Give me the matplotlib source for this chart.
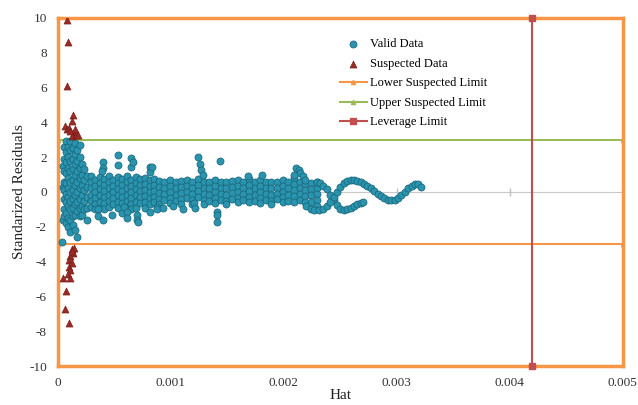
import numpy as np
import matplotlib
matplotlib.use("Agg")
import matplotlib.pyplot as plt

plt.rcParams['font.family'] = ['Liberation Serif', 'DejaVu Serif']
plt.rcParams['axes.unicode_minus'] = False

# hat values are written in units of 1e-4
# dense cloud near hat = 0
cloud_hat = [0.35, 0.4, 0.4, 0.4,
             0.5, 0.5, 0.5, 0.5, 0.5, 0.5, 0.5, 0.5,
             0.7, 0.7, 0.7, 0.7, 0.7, 0.7, 0.7, 0.7, 0.7,
             0.9, 0.9, 0.9, 0.9, 0.9, 0.9, 0.9, 0.9, 0.9,
             1.1, 1.1, 1.1, 1.1, 1.1, 1.1, 1.1, 1.1, 1.1, 1.1,
             1.3, 1.3, 1.3, 1.3, 1.3, 1.3, 1.3, 1.3, 1.3,
             1.5, 1.5, 1.5, 1.5, 1.5, 1.5, 1.5, 1.5, 1.5,
             1.7, 1.7, 1.7, 1.7, 1.7, 1.7, 1.7, 1.7,
             1.9, 1.9, 1.9, 1.9, 1.9, 1.9, 1.9, 1.9,
             2.1, 2.1, 2.1, 2.1, 2.1, 2.1,
             2.3, 2.3, 2.3, 2.3, 2.3,
             2.6, 2.6, 2.6, 2.6, 2.6]
cloud_res = [-2.9, -1.6, 0.3, 1.5,
             2.6, 1.9, 1.2, 0.6, 0.1, -0.4, -1.0, -1.4,
             2.9, 2.3, 1.7, 1.1, 0.5, -0.1, -0.6, -1.2, -1.8,
             2.6, 2.0, 1.4, 0.8, 0.2, -0.3, -0.8, -1.5, -2.0,
             2.9, 2.4, 1.8, 1.2, 0.6, 0.0, -0.5, -1.0, -1.6, -2.3,
             2.5, 1.9, 1.3, 0.7, 0.1, -0.4, -0.9, -1.4, -1.9,
             2.8, 2.2, 1.6, 1.0, 0.4, -0.2, -0.7, -1.3, -2.2,
             2.4, 1.8, 1.2, 0.6, 0.0, -0.6, -1.1, -2.6,
             2.7, 2.0, 1.4, 0.8, 0.2, -0.4, -0.9, -1.4,
             1.6, 1.0, 0.4, -0.2, -0.8, -1.3,
             1.3, 0.7, 0.1, -0.5, -1.0,
             0.9, 0.3, -0.3, -0.9, -1.6]

# main band, hat -> residuals in that column
band_cols = {
    2.9: [0.9, 0.55, 0.2, -0.15, -0.5, -0.85],
    3.3: [0.7, 0.35, 0.0, -0.35, -0.7, -1.0],
    3.7: [0.85, 0.5, 0.15, -0.2, -0.55, -0.9],
    4.1: [0.75, 0.4, 0.05, -0.3, -0.65, -1.0],
    4.5: [0.9, 0.55, 0.2, -0.15, -0.5, -0.85],
    4.9: [0.7, 0.35, 0.0, -0.35, -0.7],
    5.3: [0.85, 0.5, 0.15, -0.2, -0.55, -0.9],
    5.7: [0.75, 0.4, 0.05, -0.3, -0.65],
    6.1: [0.9, 0.55, 0.2, -0.15, -0.5, -0.85],
    6.5: [0.7, 0.35, 0.0, -0.35, -0.7, -1.0],
    6.9: [0.85, 0.5, 0.15, -0.2, -0.55, -0.9],
    7.3: [0.75, 0.4, 0.05, -0.3, -0.65],
    7.7: [0.8, 0.45, 0.1, -0.25, -0.6, -0.9],
    8.1: [0.7, 0.35, 0.0, -0.35, -0.7],
    8.5: [0.75, 0.4, 0.05, -0.3, -0.6],
    8.9: [0.65, 0.3, -0.05, -0.4, -0.7],
    9.4: [0.6, 0.25, -0.1, -0.45],
    9.9: [0.7, 0.35, 0.0, -0.35, -0.65],
    10.4: [0.55, 0.2, -0.15, -0.5],
    10.9: [0.65, 0.3, -0.05, -0.4, -0.7],
    11.4: [0.7, 0.35, 0.0, -0.35],
    11.9: [0.6, 0.25, -0.1, -0.45, -0.7],
    12.4: [0.75, 0.4, 0.05, -0.3],
    12.9: [0.6, 0.25, -0.1, -0.45, -0.7],
    13.4: [0.55, 0.2, -0.15, -0.5],
    13.9: [0.7, 0.35, 0.0, -0.35, -0.65],
    14.4: [0.6, 0.25, -0.1, -0.45],
    14.9: [0.55, 0.2, -0.15, -0.5, -0.7],
    15.4: [0.65, 0.3, -0.05, -0.4],
    15.9: [0.7, 0.35, 0.0, -0.35, -0.6],
    16.4: [0.6, 0.25, -0.1, -0.45],
    16.9: [0.75, 0.4, 0.05, -0.3, -0.6],
    17.4: [0.55, 0.2, -0.15, -0.5],
    17.9: [0.7, 0.35, 0.0, -0.35, -0.65],
    18.4: [0.6, 0.25, -0.1, -0.45],
    18.9: [0.55, 0.2, -0.15, -0.5, -0.7],
    19.4: [0.6, 0.25, -0.1, -0.4],
    19.9: [0.7, 0.35, 0.0, -0.3, -0.6],
    20.4: [0.55, 0.2, -0.15, -0.5],
    20.9: [0.8, 0.45, 0.1, -0.25, -0.6],
    21.4: [0.6, 0.25, -0.1, -0.45],
    21.9: [0.45, 0.1, -0.25, -0.6],
    22.4: [0.5, 0.15, -0.2, -0.55],
    22.9: [0.6, 0.25, -0.1, -0.45, -0.8],
}

# scattered points outside the band
outlier_hat = [4.0, 4.0, 5.3, 5.3, 6.5, 6.5, 6.6, 8.1, 8.1, 8.3, 3.9, 12.4,
               12.6, 12.7, 12.8, 14.3, 16.8, 18.1, 21.1, 21.3, 21.4, 21.7,
               21.9, 20.9,
               3.5, 3.5, 4.0, 4.8, 5.7, 5.8, 6.1, 6.1, 7.0, 7.0, 7.1, 8.1,
               8.8, 8.8, 12.0, 12.1, 14.1, 14.1, 14.1, 9.3, 10.2, 11.1,
               22.0, 22.4, 22.7, 23.1]
outlier_res = [1.7, 1.4, 2.1, 1.55, 1.95, 1.45, 1.7, 1.45, 1.15, 1.45, 1.2, 2.0,
               1.6, 1.25, 0.95, 1.8, 0.9, 1.0, 1.4, 1.25, 1.1, 0.9,
               0.7, 1.0,
               -1.0, -1.4, -1.6, -1.3, -1.2, -0.85, -1.15, -1.5, -1.3, -1.6, -1.7, -1.15,
               -0.85, -1.0, -0.63, -0.9, -1.15, -1.3, -1.75, -0.9, -0.8, -1.0,
               -0.8, -0.95, -1.05, -1.05]

# the two wavy tails
waveA_hat = [22.9, 23.2, 23.5, 23.8, 24.1, 24.4, 24.7, 25.0, 25.3, 25.6,
             25.9, 26.2, 26.5, 26.8, 27.0]
waveA_res = [0.6, 0.5, 0.35, 0.15, -0.15, -0.45, -0.75, -0.95, -1.05, -1.0,
             -0.9, -0.8, -0.7, -0.62, -0.57]
waveB_hat = [23.5, 23.8, 24.1, 24.4, 24.7, 25.0, 25.3, 25.6, 25.9, 26.2,
             26.5, 26.8, 27.1, 27.4, 27.7, 28.0, 28.3, 28.6, 28.9, 29.2,
             29.5, 29.8, 30.1, 30.4, 30.7, 31.0, 31.3, 31.6, 31.9, 32.1]
waveB_res = [-1.0, -0.8, -0.55, -0.3, 0.0, 0.3, 0.5, 0.65, 0.7, 0.68,
             0.62, 0.55, 0.45, 0.33, 0.2, 0.05, -0.1, -0.25, -0.37, -0.45,
             -0.47, -0.45, -0.35, -0.2, 0.0, 0.2, 0.35, 0.45, 0.45, 0.3]

# suspected data
susp_hat = [0.8, 0.9, 0.8, 1.3, 1.2, 0.6, 0.8, 1.0, 1.4, 1.2, 1.6, 1.1, 1.5,
            1.8, 1.2, 1.3, 1.1, 1.0, 1.2, 1.0, 1.1, 0.9, 1.4, 1.2,
            0.45, 1.06, 0.7, 0.6, 1.0]
susp_res = [9.9, 8.6, 6.1, 4.4, 4.1, 3.8, 3.6, 3.7, 3.4, 3.2, 3.3, 3.5, 3.6,
            3.3, -3.3, -3.5, -3.7, -3.9, -4.1, -4.3, -4.5, -4.7, -3.2, -3.4,
            -4.95, -4.95, -5.7, -6.7, -7.5]

lower_limit = -3
upper_limit = 3
leverage = 0.0042
xticks = [0, 0.001, 0.002, 0.003, 0.004, 0.005]
yticks = list(range(-10, 11, 2))

band_hat = [h for h, ys in band_cols.items() for _ in ys]
band_res = [y for ys in band_cols.values() for y in ys]
valid_hat = np.array(cloud_hat + band_hat + outlier_hat + waveA_hat + waveB_hat) * 1e-4
valid_res = np.array(cloud_res + band_res + outlier_res + waveA_res + waveB_res)

orange = '#f79646'
green = '#9bbb59'
red = '#c0504d'

fig = plt.figure(figsize=(6.38, 4.05), dpi=100)
ax = fig.add_axes([0.091, 0.096, 0.885, 0.86])

# zero axis line with small ticks
ax.axhline(0, color='#c8c8c8', lw=0.8, zorder=1)
ax.plot(xticks[1:-1], [0] * 4, '|', color='#c0c0c0', ms=6, zorder=1)

ax.scatter(valid_hat, valid_res, s=26, color='#2a93ad', edgecolors='#166478',
           linewidths=0.5, zorder=3, label='Valid Data')
ax.scatter(np.array(susp_hat) * 1e-4, susp_res, s=26, marker='^', color='#9b2a25',
           edgecolors='#6e1a16', linewidths=0.4, zorder=4, label='Suspected Data')
ax.plot([0, 0.005], [lower_limit, lower_limit], color=orange, lw=1.5,
        marker='^', ms=3, zorder=2, label='Lower Suspected Limit')
ax.plot([0, 0.005], [upper_limit, upper_limit], color=green, lw=1.5,
        marker='^', ms=3, zorder=2, label='Upper Suspected Limit')
ax.plot([leverage, leverage], [-10, 10], color=red, lw=1.5,
        marker='s', ms=4, zorder=5, clip_on=False, label='Leverage Limit')

ax.set_xlim(0, 0.005)
ax.set_ylim(-10, 10)
ax.set_xticks(xticks)
ax.set_xticklabels(['0', '0.001', '0.002', '0.003', '0.004', '0.005'])
ax.set_yticks(yticks)
ax.tick_params(length=0, labelsize=9.5, colors='#333333', pad=8)
for s in ax.spines.values():
    s.set_color(orange)
    s.set_linewidth(2.5)

ax.set_xlabel('Hat', fontsize=11, color='#222222', labelpad=0)
ax.set_ylabel('Standarized Residuals', fontsize=11, color='#222222', labelpad=2)

leg = ax.legend(loc='upper left', bbox_to_anchor=(0.49, 0.955), frameon=False,
                fontsize=9, handlelength=2.2, labelspacing=0.6,
                handletextpad=0.2, borderaxespad=0)

fig.savefig('out.png', dpi=100)
